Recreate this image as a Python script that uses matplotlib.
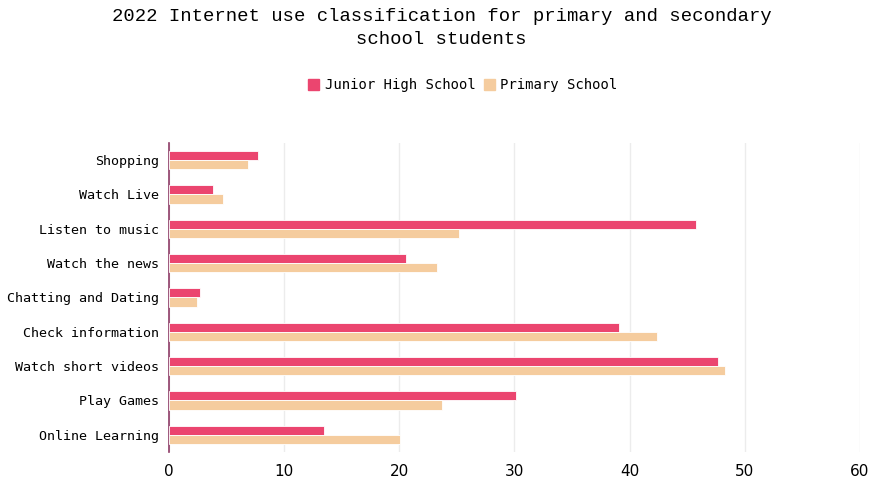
import numpy as np
import matplotlib.pyplot as plt
from matplotlib.patches import Patch

# data (top to bottom)
categories = ['Shopping', 'Watch Live', 'Listen to music', 'Watch the news',
              'Chatting and Dating', 'Check information', 'Watch short videos',
              'Play Games', 'Online Learning']
junior_high = [7.7, 3.8, 45.8, 20.6, 2.7, 39.1, 47.7, 30.1, 13.5]
primary = [6.9, 4.7, 25.2, 23.3, 2.4, 42.4, 48.3, 23.7, 20.1]
x_ticks = [0, 10, 20, 30, 40, 50, 60]

c_jhs = '#EB456F'
c_ps = '#F5CC9E'

fig = plt.figure(figsize=(8.73, 4.83), dpi=100)
ax = fig.add_axes([0.1936, 0.0642, 0.7914, 0.6398])

y = np.arange(len(categories))
h = 0.27
ax.barh(y - h / 2, junior_high, height=h, color=c_jhs, edgecolor='white', linewidth=0.6, zorder=3)
ax.barh(y + h / 2, primary, height=h, color=c_ps, edgecolor='white', linewidth=0.6, zorder=3)

ax.set_ylim(len(categories) - 0.5, -0.5)
ax.set_xlim(0, 60)
ax.set_xticks(x_ticks)
ax.set_yticks(y)
ax.set_yticklabels(categories, fontsize=9.6, family='DejaVu Sans Mono')
ax.tick_params(axis='x', length=0, labelsize=11, pad=9)
ax.tick_params(axis='y', length=0, pad=7)
ax.grid(axis='x', color='#ECECEC', linewidth=1, zorder=0)
for s in ['top', 'right', 'bottom']:
    ax.spines[s].set_visible(False)
ax.spines['left'].set_color('#8E3B66')
ax.spines['left'].set_linewidth(1.2)

fig.text(0.506, 0.942, '2022 Internet use classification for primary and secondary\nschool students',
         ha='center', va='center', fontsize=13.6, family='Liberation Mono', linespacing=1.42)

handles = [Patch(color=c_jhs), Patch(color=c_ps)]
fig.legend(handles, ['Junior High School', 'Primary School'], loc='center',
           bbox_to_anchor=(0.53, 0.823), ncol=2, frameon=False, handlelength=0.8,
           handleheight=0.8, handletextpad=0.4, columnspacing=0.6,
           prop={'family': 'DejaVu Sans Mono', 'size': 10})

fig.savefig('out.png', dpi=100)
